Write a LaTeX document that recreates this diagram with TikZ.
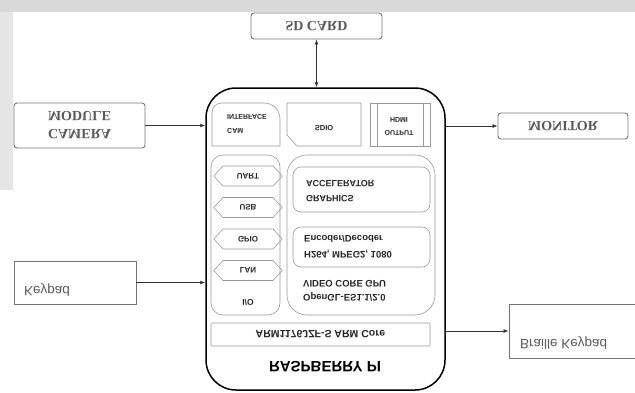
\documentclass[tikz,border=0pt]{standalone}
\usepackage{fontspec}
\setmainfont{Liberation Sans}
\newfontfamily\boxfont{Liberation Serif}
\usetikzlibrary{arrows.meta,shapes.symbols}

\begin{document}
\begin{tikzpicture}[x=1pt,y=-1pt,
    flip/.style={yscale=-1},
    outbox/.style={draw=black!55, line width=0.9pt, rounded corners=3pt, inner sep=0pt},
    sqbox/.style={draw=black!55, line width=0.9pt, inner sep=0pt},
    outtxt/.style={flip, text=black!65, align=center, inner sep=0pt,
        font=\boxfont\bfseries\fontsize{14}{18}\selectfont},
    sidetxt/.style={flip, text=black!65, anchor=west, inner sep=0pt,
        font=\fontsize{13.5}{16}\selectfont},
    part/.style={draw=black!40, line width=0.6pt, inner sep=0pt},
    parttxt/.style={flip, text=black!85, align=left, inner sep=0pt,
        font=\bfseries\fontsize{9.5}{15}\selectfont},
    smalltxt/.style={flip, text=black!85, align=left, inner sep=0pt,
        font=\bfseries\fontsize{7}{14}\selectfont},
    hexa/.style={flip, signal, signal to=west and east, signal pointer angle=95,
        draw=black!40, line width=0.6pt, minimum width=62pt, minimum height=20pt,
        inner xsep=12pt, inner ysep=0pt, text width=26pt, align=center,
        text=black!85, font=\bfseries\fontsize{8}{9}\selectfont},
    link/.style={draw=black!80, line width=0.8pt, -{Latex[length=5pt,width=4pt]}},
  ]
  \useasboundingbox (0,0) rectangle (635,392);
  % Franja gris de fondo
  \fill[black!15] (0,0) rectangle (635,12);
  \fill[black!10] (0,12) rectangle (13,190);

  % Cajas exteriores
  \node[outbox, minimum width=131pt, minimum height=26pt] (sd) at (316.5,26) {};
  \node[outtxt] (sdlabel) at (sd) {SD CARD};
  \node[outbox, minimum width=131pt, minimum height=45pt] (cam) at (79.5,125.5) {};
  \node[outtxt] (camlabel) at (cam) {CAMERA\\MODULE};
  \node[outbox, minimum width=130pt, minimum height=26pt] (mon) at (563,126) {};
  \node[outtxt] (monlabel) at (mon) {MONITOR};
  \node[sqbox, minimum width=122pt, minimum height=43pt] (kp) at (75,282.5) {};
  \node[sidetxt] (kplabel) at (24,290) {Keypad};
  \node[sqbox, minimum width=141pt, minimum height=54pt] (br) at (579.5,331) {};
  \node[sidetxt] (brlabel) at (520,343) {Braille Keypad};

  % Raspberry Pi
  \node[draw=black, line width=1.5pt, rounded corners=30pt, inner sep=0pt,
        minimum width=239pt, minimum height=302pt] (pi) at (325.5,239) {};
  \node[flip, inner sep=0pt, font=\bfseries\fontsize{15}{18}\selectfont] (pilabel) at (325,367) {RASPBERRY PI};

  % Fila superior
  \draw[part] (212,146) -- (212,113) .. controls (212,107) and (216,103) .. (222,103)
    -- (264,103) .. controls (273,103) and (280,110) .. (280,119) -- (280,146) -- cycle;
  \node[smalltxt, anchor=west] (camif) at (227,124) {CAM\\INTERFACE};
  \draw[part] (287,103) -- (361,103) -- (361,146) -- (297,146) -- (287,135) -- cycle;
  \node[smalltxt, font=\bfseries\fontsize{7.5}{9}\selectfont] (sdio) at (324,128) {SDIO};
  \draw[part] (370,103) rectangle (430,146);
  \draw[part] (377,103) -- (377,146);
  \draw[part] (423,103) -- (423,146);
  \node[smalltxt, align=center, font=\bfseries\fontsize{7}{13}\selectfont] (hdmi) at (399,126) {OUTPUT\\HDMI};

  % Bloque de E/S
  \node[part, rounded corners=12pt, minimum width=69pt, minimum height=160pt] (io) at (245.5,235) {};
  \node[hexa] (uart) at (248,176) {UART};
  \node[hexa] (usb) at (248,207.5) {USB};
  \node[hexa] (gpio) at (248,239) {GPIO};
  \node[hexa] (lan) at (248,270.5) {LAN};
  \node[parttxt, font=\bfseries\fontsize{8.5}{10}\selectfont] (iolabel) at (248,302) {I/O};

  % Bloque de la GPU
  \node[part, rounded corners=20pt, minimum width=148pt, minimum height=160pt] (gpu) at (361,235) {};
  \node[part, rounded corners=8pt, minimum width=137pt, minimum height=45pt] (gfx) at (361.5,189.5) {};
  \node[parttxt, anchor=west, font=\bfseries\fontsize{9}{15}\selectfont] (gfxlabel) at (306,191.5) {GRAPHICS\\ACCELERATOR};
  \node[part, rounded corners=8pt, minimum width=137pt, minimum height=40pt] (enc) at (361.5,247) {};
  \node[parttxt, anchor=west, font=\bfseries\fontsize{9.5}{16}\selectfont] (enclabel) at (304,247) {H264, MPEG2, 1080\\Encoder/Decoder};
  \node[parttxt, anchor=west, font=\bfseries\fontsize{9.5}{14}\selectfont] (gpulabel) at (303,291) {OpenGL-ES1.1/2.0\\VIDEO CORE GPU};

  % Nucleo ARM
  \node[part, rounded corners=1pt, minimum width=219pt, minimum height=23pt] (arm) at (320.5,334.5) {};
  \node[parttxt, font=\bfseries\fontsize{10.5}{12}\selectfont] (armlabel) at (arm) {ARM1176JZF-S ARM Core};

  % Conexiones
  \draw[link, {Latex[length=5pt,width=4pt]}-{Latex[length=5pt,width=4pt]}] (sd.south) -- (sd.south |- pi.north);
  \draw[link] (cam.east) -- (cam.east -| pi.west);
  \draw[link] (kp.east) -- (kp.east -| pi.west);
  \draw[link] (pi.east |- mon.west) -- (mon.west);
  \draw[link] (pi.east |- br.west) -- (br.west);
\end{tikzpicture}
\end{document}
